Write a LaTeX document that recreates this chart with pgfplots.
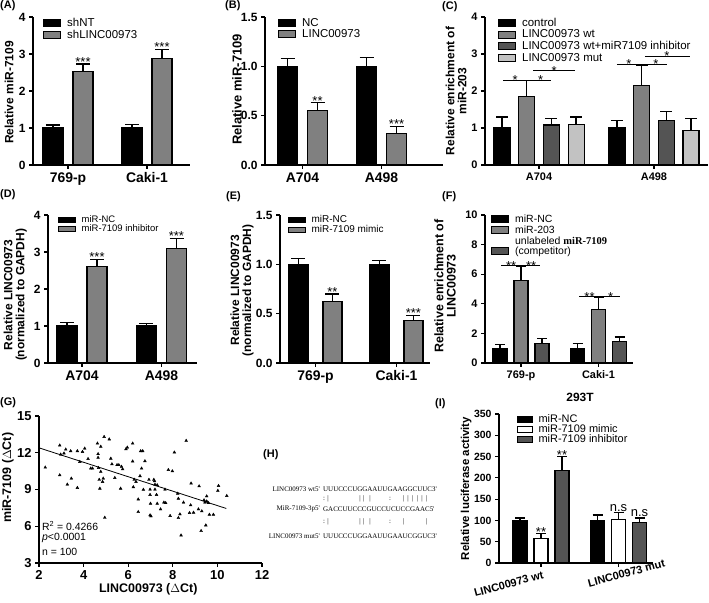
\documentclass[border=0pt]{standalone}
\usepackage{pgfplots}
\pgfplotsset{compat=1.18}
\usepackage{fontspec}
\setmainfont{Liberation Sans}
\newfontfamily\seriffont{Liberation Serif}
\newcommand\fs[1]{\fontsize{#1}{#1}\selectfont}
\definecolor{gmid}{gray}{0.5}
\definecolor{gdark}{gray}{0.33}
\definecolor{glight}{gray}{0.76}
\pgfplotsset{
  gp/.style={scale only axis, axis lines*=left,
    axis line style={line width=1.3bp,-},
    tick align=outside, major tick length=4bp,
    tick style={line width=1.2bp,black},
    ymin=0, clip=false, xtick={0,1},
    /pgf/number format/assume math mode=true,
    legend cell align=left,
    legend style={draw=none, fill=none, inner sep=0pt, anchor=north west, row sep=0pt,
      nodes={inner sep=1bp}, /tikz/every odd column/.style={column sep=5bp}},
    legend image code/.code={\draw[##1, draw=black, line width=1bp] (0bp,-3.5bp) rectangle (17bp,3.5bp);},
  },
  lowimg/.style={legend image code/.code={\path (0bp,3.5bp); \draw[##1, draw=black, line width=1bp] (0bp,-7.5bp) rectangle (17bp,-0.5bp);}},
  bs/.style={ybar, bar shift=0pt, draw=black, line width=1.3bp,
    error bars/y dir=plus, error bars/y explicit,
    error bars/error bar style={line width=1.3bp,black},
    error bars/error mark options={rotate=90,black,line width=1.3bp,mark size=#1}},
  bs/.default=7bp,
}
\tikzset{
  star/.style={font=\fs{13}, anchor=south, inner sep=0pt, yshift=-3.5bp},
  plab/.style={font=\bfseries\fs{11}, anchor=west, inner sep=0pt},
}
\begin{document}
\begin{tikzpicture}[x=1bp,y=1bp]
\useasboundingbox (0,0) rectangle (709,603);
% panel labels
\node[plab] at (0,597) {(A)};
\node[plab] at (225,597) {(B)};
\node[plab] at (442,596) {(C)};
\node[plab] at (0,408) {(D)};
\node[plab] at (226,406) {(E)};
\node[plab] at (442,406) {(F)};
\node[plab] at (0,200) {(G)};
\node[plab] at (263,148) {(H)};
\node[plab] at (435,199) {(I)};

% ---------------- A
\begin{axis}[gp, at={(33bp,438bp)}, anchor=south west, width=157bp, height=148bp,
  xmin=-0.443, xmax=1.544, ymax=4, ytick={0,1,2,3,4},
  xticklabels={769-p,Caki-1},
  xticklabel style={font=\bfseries\fs{14}},
  yticklabel style={font=\bfseries\fs{12}},
  ylabel={Relative miR-7109},
  ylabel style={font=\bfseries\fs{12}, at={(axis description cs:-0.153,0.49)}, anchor=center},
  legend style={at={(axis description cs:0.064,1.0)}, font=\fs{11.5}}]
\addplot[bs, bar width=20bp, fill=black, draw=black] coordinates {(-0.19,1) +- (0,0.08) (0.81,1) +- (0,0.09)};
\addlegendentry{shNT}
\addplot[bs, bar width=20bp, fill=gmid, draw=black] coordinates {(0.19,2.53) +- (0,0.2) (1.19,2.87) +- (0,0.26)};
\addlegendentry{shLINC00973}
\node[star] at ([xshift=15bp]axis cs:0,2.75) {***};
\node[star] at ([xshift=15bp]axis cs:1,3.15) {***};
\end{axis}

% ---------------- B
\begin{axis}[gp, at={(265bp,438bp)}, anchor=south west, width=178bp, height=148bp,
  xmin=-0.475, xmax=1.778, ymax=1.5, ytick={0,0.5,1,1.5},
  yticklabel style={font=\bfseries\fs{12}, /pgf/number format/.cd, fixed, fixed zerofill, precision=1},
  xticklabels={A704,A498},
  xticklabel style={font=\bfseries\fs{14}},
  ylabel={Relative miR-7109},
  ylabel style={font=\bfseries\fs{13}, at={(axis description cs:-0.157,0.51)}, anchor=center},
  legend style={at={(axis description cs:0.073,1.0)}, font=\fs{11.5}}]
\addplot[bs, bar width=20bp, fill=black, draw=black] coordinates {(-0.19,1) +- (0,0.08) (0.81,1) +- (0,0.09)};
\addlegendentry{NC}
\addplot[bs, bar width=20bp, fill=gmid, draw=black] coordinates {(0.19,0.55) +- (0,0.08) (1.19,0.32) +- (0,0.07)};
\addlegendentry{LINC00973}
\node[star] at ([xshift=15bp]axis cs:0,0.64) {**};
\node[star] at ([xshift=15bp]axis cs:1,0.40) {***};
\end{axis}

% ---------------- C
\begin{axis}[gp, at={(485bp,438bp)}, anchor=south west, width=223bp, height=148bp,
  xmin=-0.47, xmax=1.47, ymax=4, ytick={0,1,2,3,4},
  yticklabel style={font=\bfseries\fs{11}},
  xticklabels={A704,A498},
  xticklabel style={font=\bfseries\fs{11}},
  ylabel={Relative enrichment of\\miR-203},
  ylabel style={font=\bfseries\fs{12}, align=center, at={(axis description cs:-0.13,0.5)}, anchor=center},
  legend style={at={(axis description cs:0.058,1.0)}, font=\fs{11.5}}]
\addplot[bs=6bp, line width=1.1bp, bar width=16bp, fill=black, draw=black] coordinates {(-0.322,1) +- (0,0.3) (0.678,1) +- (0,0.2)};
\addlegendentry{control}
\addplot[bs=6bp, line width=1.1bp, bar width=16bp, fill=gmid, draw=black] coordinates {(-0.107,1.85) +- (0,0.43) (0.893,2.15) +- (0,0.55)};
\addlegendentry{LINC00973 wt}
\addplot[bs=6bp, line width=1.1bp, bar width=16bp, fill=gdark, draw=black] coordinates {(0.107,1.08) +- (0,0.17) (1.107,1.2) +- (0,0.25)};
\addlegendentry{LINC00973 wt+miR7109 inhibitor}
\addplot[bs=6bp, line width=1.1bp, bar width=16bp, fill=glight, draw=black] coordinates {(0.322,1.1) +- (0,0.2) (1.322,0.93) +- (0,0.32)};
\addlegendentry{LINC00973 mut}
\draw[line width=0.7bp] ([xshift=-36bp]axis cs:0,2.3) -- ([xshift=-12bp]axis cs:0,2.3);
\draw[line width=0.7bp] ([xshift=-9bp]axis cs:0,2.3) -- ([xshift=12bp]axis cs:0,2.3);
\draw[line width=0.7bp] ([xshift=-6bp]axis cs:0,2.55) -- ([xshift=36bp]axis cs:0,2.55);
\node[star] at ([xshift=-24bp]axis cs:0,2.27) {*};
\node[star] at ([xshift=1.5bp]axis cs:0,2.27) {*};
\node[star] at ([xshift=15bp]axis cs:0,2.52) {*};
\draw[line width=0.7bp] ([xshift=-37bp]axis cs:1,2.73) -- ([xshift=-14bp]axis cs:1,2.73);
\draw[line width=0.7bp] ([xshift=-9bp]axis cs:1,2.73) -- ([xshift=13bp]axis cs:1,2.73);
\draw[line width=0.7bp] ([xshift=-9bp]axis cs:1,2.93) -- ([xshift=36bp]axis cs:1,2.93);
\node[star] at ([xshift=-25bp]axis cs:1,2.7) {*};
\node[star] at ([xshift=2bp]axis cs:1,2.7) {*};
\node[star] at ([xshift=13bp]axis cs:1,2.9) {*};
\end{axis}

% ---------------- D
\begin{axis}[gp, at={(48bp,240bp)}, anchor=south west, width=149bp, height=148bp,
  xmin=-0.428, xmax=1.447, ymax=4, ytick={0,1,2,3,4},
  yticklabel style={font=\bfseries\fs{12}},
  xticklabels={A704,A498},
  xticklabel style={font=\bfseries\fs{14}},
  ylabel={Relative LINC00973\\(normalized to GAPDH)},
  ylabel style={font=\bfseries\fs{12}, align=center, at={(axis description cs:-0.22,0.46)}, anchor=center},
  legend style={at={(axis description cs:0.067,1.0)}, font=\fs{9.5}, nodes={inner sep=0.5bp}},
  legend image code/.code={\draw[#1, draw=black, line width=1bp] (0bp,-2.5bp) rectangle (17bp,2.5bp);}]
\addplot[bs, bar width=20bp, fill=black, draw=black] coordinates {(-0.189,1) +- (0,0.09) (0.811,1) +- (0,0.06)};
\addlegendentry{miR-NC}
\addplot[bs, bar width=20bp, fill=gmid, draw=black] coordinates {(0.189,2.6) +- (0,0.2) (1.189,3.1) +- (0,0.27)};
\addlegendentry{miR-7109 inhibitor}
\node[star] at ([xshift=15bp]axis cs:0,2.82) {***};
\node[star] at ([xshift=15bp]axis cs:1,3.39) {***};
\end{axis}

% ---------------- E
\begin{axis}[gp, at={(280bp,240bp)}, anchor=south west, width=150bp, height=148bp,
  xmin=-0.438, xmax=1.414, ymax=1.5, ytick={0,0.5,1,1.5},
  yticklabel style={font=\bfseries\fs{12}, /pgf/number format/.cd, fixed, fixed zerofill, precision=1},
  xticklabels={769-p,Caki-1},
  xticklabel style={font=\bfseries\fs{14}},
  ylabel={Relative LINC00973\\(normalized to GAPDH)},
  ylabel style={font=\bfseries\fs{12}, align=center, at={(axis description cs:-0.253,0.49)}, anchor=center},
  legend style={at={(axis description cs:0.053,1.0)}, font=\fs{10}, nodes={inner sep=0.5bp}},
  legend image code/.code={\draw[#1, draw=black, line width=1bp] (0bp,-2.5bp) rectangle (17bp,2.5bp);}]
\addplot[bs, bar width=19bp, fill=black, draw=black] coordinates {(-0.21,1) +- (0,0.06) (0.79,1) +- (0,0.04)};
\addlegendentry{miR-NC}
\addplot[bs, bar width=19bp, fill=gmid, draw=black] coordinates {(0.21,0.62) +- (0,0.08) (1.21,0.43) +- (0,0.05)};
\addlegendentry{miR-7109 mimic}
\node[star] at ([xshift=17bp]axis cs:0,0.71) {**};
\node[star] at ([xshift=17bp]axis cs:1,0.49) {***};
\end{axis}

% ---------------- F
\begin{axis}[gp, at={(485bp,240bp)}, anchor=south west, width=148bp, height=148bp,
  xmin=-0.465, xmax=1.445, ymax=10, ytick={0,2,4,6,8,10},
  yticklabel style={font=\bfseries\fs{11}},
  xticklabels={769-p,Caki-1},
  xticklabel style={font=\bfseries\fs{11}},
  ylabel={Relative enrichment of\\LINC00973},
  ylabel style={font=\bfseries\fs{12.5}, align=center, at={(axis description cs:-0.27,0.52)}, anchor=center},
  legend style={at={(axis description cs:0.04,1.01)}, font=\fs{10.5}, cells={align=left}}]
\addplot[bs=5bp, line width=1.1bp, bar width=14bp, fill=black, draw=black] coordinates {(-0.271,1) +- (0,0.25) (0.729,1) +- (0,0.3)};
\addlegendentry{miR-NC}
\addplot[bs=5bp, line width=1.1bp, bar width=14bp, fill=gmid, draw=black] coordinates {(0,5.6) +- (0,0.95) (1,3.6) +- (0,0.85)};
\addlegendentry{miR-203}
\addplot[bs=5bp, line width=1.1bp, bar width=14bp, fill=gdark, draw=black, lowimg] coordinates {(0.271,1.3) +- (0,0.35) (1.271,1.45) +- (0,0.3)};
\addlegendentry{unlabeled {\seriffont\bfseries miR-7109}\\(competitor)}
\draw[line width=0.7bp] ([xshift=-20bp]axis cs:0,6.6) -- ([xshift=-1bp]axis cs:0,6.6);
\draw[line width=0.7bp] ([xshift=0bp]axis cs:0,6.6) -- ([xshift=19bp]axis cs:0,6.6);
\node[star] at ([xshift=-10bp]axis cs:0,6.5) {**};
\node[star] at ([xshift=10bp]axis cs:0,6.5) {**};
\draw[line width=0.7bp] ([xshift=-19.5bp]axis cs:1,4.5) -- ([xshift=1.5bp]axis cs:1,4.5);
\draw[line width=0.7bp] ([xshift=3.5bp]axis cs:1,4.5) -- ([xshift=21.5bp]axis cs:1,4.5);
\node[star] at ([xshift=-9bp]axis cs:1,4.4) {**};
\node[star] at ([xshift=12bp]axis cs:1,4.4) {*};
\end{axis}

% ---------------- G
\begin{axis}[gp, at={(39bp,40bp)}, anchor=south west, width=223bp, height=147bp,
  xmin=2, xmax=12, ymin=3, ymax=15, xtick={2,4,6,8,10,12}, ytick={3,6,9,12,15},
  ticklabel style={font=\bfseries\fs{13}},
  xlabel={LINC00973 ($\Delta$Ct)}, ylabel={miR-7109 ($\Delta$Ct)},
  xlabel style={font=\bfseries\fs{12.5}, at={(axis description cs:0.49,-0.18)}, anchor=center},
  ylabel style={font=\bfseries\fs{12.5}, at={(axis description cs:-0.14,0.58)}, anchor=center}]
\addplot[only marks, mark=triangle*, mark size=1.6bp, black] coordinates {
(2.28,10.8) (2.93,12.6) (2.97,11.86) (2.93,10.17) (3.12,11.95) (3.2,12.27) (3.27,9.41) (3.42,12.14)
(3.45,9.9) (3.72,12.14) (3.72,9.14) (3.83,11.26) (3.95,12.08) (4.05,12.35) (4.2,11.5) (4.32,10.72)
(4.4,10.72) (4.65,11.9) (4.62,12.76) (4.65,11.6) (4.67,10.77) (4.7,9.8) (4.73,9.08) (4.77,10.45)
(4.85,9.63) (4.88,9.9) (4.92,13.3) (4.77,12.5) (4.95,6.7) (5.15,13.1) (5.22,11.53) (5.27,11.07)
(5.4,9.95) (5.5,11.0) (5.58,11.0) (5.66,9.08) (5.7,10.86) (5.75,10.66) (5.9,12.3) (5.96,12.43)
(6.2,11.3) (6.2,12.76) (6.23,9.2) (6.27,9.8) (6.35,9.63) (6.45,7.17) (6.45,8.2) (6.53,10.1)
(6.56,12.14) (6.6,10.72) (6.65,12.14) (6.68,8.99) (6.75,11.32) (6.93,9.8) (6.98,8.57) (7.0,7.85)
(7.02,6.82) (6.98,6.9) (7.18,9.68) (7.2,9.0) (7.2,9.4) (7.27,8.57) (7.3,7.85) (7.45,7.39)
(7.6,7.94) (7.65,9.0) (7.68,7.9) (7.8,10.6) (7.88,6.85) (7.98,10.5) (8.07,12.03) (8.22,8.67)
(8.25,6.68) (8.32,6.98) (8.37,5.26) (8.48,7.94) (8.6,12.98) (8.75,7.09) (8.8,7.72) (8.82,9.5)
(8.93,7.12) (9.15,7.39) (9.18,9.27) (9.27,5.62) (9.3,7.23) (9.4,8.13) (9.44,7.94) (9.48,6.08)
(9.52,8.45) (9.52,8.04) (9.6,7.9) (9.64,6.95) (9.82,6.95) (10.05,9.3) (10.02,8.9) (10.42,8.48)
(7.15,9.8) (7.3,9.36) (8.25,8.26) (6.98,9.0)
};
\addplot[black, line width=0.8bp] coordinates {(2,12.4) (10.4,7.45)};
\node[anchor=west, inner sep=0pt, font=\fs{10.5}] at (axis cs:2.13,6.02) {R$^{\mathrm{2}}$ = 0.4266};
\node[anchor=west, inner sep=0pt, font=\fs{10.5}] at (axis cs:2.13,5.04) {\textit{p}<0.0001};
\node[anchor=west, inner sep=0pt, font=\fs{10.5}] at (axis cs:2.13,3.9) {n = 100};
\end{axis}

% ---------------- H
\begin{scope}[every node/.style={font=\seriffont\fs{7}, inner sep=0pt}]
\node[anchor=east] at (320,114) {LINC00973 wt5'};
\node[anchor=east] at (320,94) {MiR-7109-3p5'};
\node[anchor=east] at (320,67) {LINC00973 mut5'};
\node[anchor=west] at (323,114) {UUUCCCUGGAAUUGAAGGCUUC3'};
\node[anchor=west] at (323,94) {GACCUUCCCGUCCUCUCCGAAC5'};
\node[anchor=west] at (323,67) {UUUCCCUGGAAUUGAAUCGGUC3'};
\foreach \xx in {324,390} {\node at (\xx,104) {:}; \node at (\xx,81) {:};}
\foreach \xx in {328,360,363.5,370,403.3,408,412.7,417.3,422,426.7} {\node at (\xx,104) {|};}
\foreach \xx in {328,360,363.5,370,403.3,426.7} {\node at (\xx,81) {|};}
\end{scope}

% ---------------- I
\begin{axis}[gp, at={(499bp,40bp)}, anchor=south west, width=154bp, height=149bp,
  xmin=-0.542, xmax=1.445, ymax=350, ytick={0,50,100,150,200,250,300,350},
  yticklabel style={font=\bfseries\fs{10.5}},
  xticklabels={\makebox[0pt][r]{LINC00973 wt},\makebox[0pt][c]{\hspace*{12bp}LINC00973 mut}},
  xticklabel style={font=\bfseries\fs{11}, rotate=15, anchor=north, inner sep=0pt, yshift=-4bp},
  ylabel={Relative luciferase activity},
  ylabel style={font=\bfseries\fs{11.5}, at={(axis description cs:-0.214,0.5)}, anchor=center},
  title={293T}, title style={font=\bfseries\fs{12}, at={(axis description cs:0.526,1.07)}, anchor=center},
  legend style={at={(axis description cs:0.117,1.0)}, font=\fs{11}, nodes={inner sep=0.3bp}},
  legend image code/.code={\draw[#1, draw=black, line width=1bp] (0bp,-3bp) rectangle (15bp,3bp);}]
\addplot[bs=5bp, line width=1.1bp, bar width=14bp, fill=black, draw=black] coordinates {(-0.271,100) +- (0,6) (0.729,100) +- (0,13)};
\addlegendentry{miR-NC}
\addplot[bs=5bp, line width=1.1bp, bar width=14bp, fill=white, draw=black] coordinates {(0,57) +- (0,13) (1,102) +- (0,16)};
\addlegendentry{miR-7109 mimic}
\addplot[bs=5bp, line width=1.1bp, bar width=14bp, fill=gdark, draw=black] coordinates {(0.271,218) +- (0,32) (1.271,95) +- (0,11)};
\addlegendentry{miR-7109 inhibitor}
\node[star] at ([xshift=0bp]axis cs:0,71) {**};
\node[star] at ([xshift=21bp]axis cs:0,251) {**};
\node[anchor=south, inner sep=0pt, font=\fs{13}] at ([xshift=0bp]axis cs:1,121) {n.s};
\node[anchor=south, inner sep=0pt, font=\fs{13}] at ([xshift=21bp]axis cs:1,109) {n.s};
\end{axis}
\end{tikzpicture}
\end{document}
